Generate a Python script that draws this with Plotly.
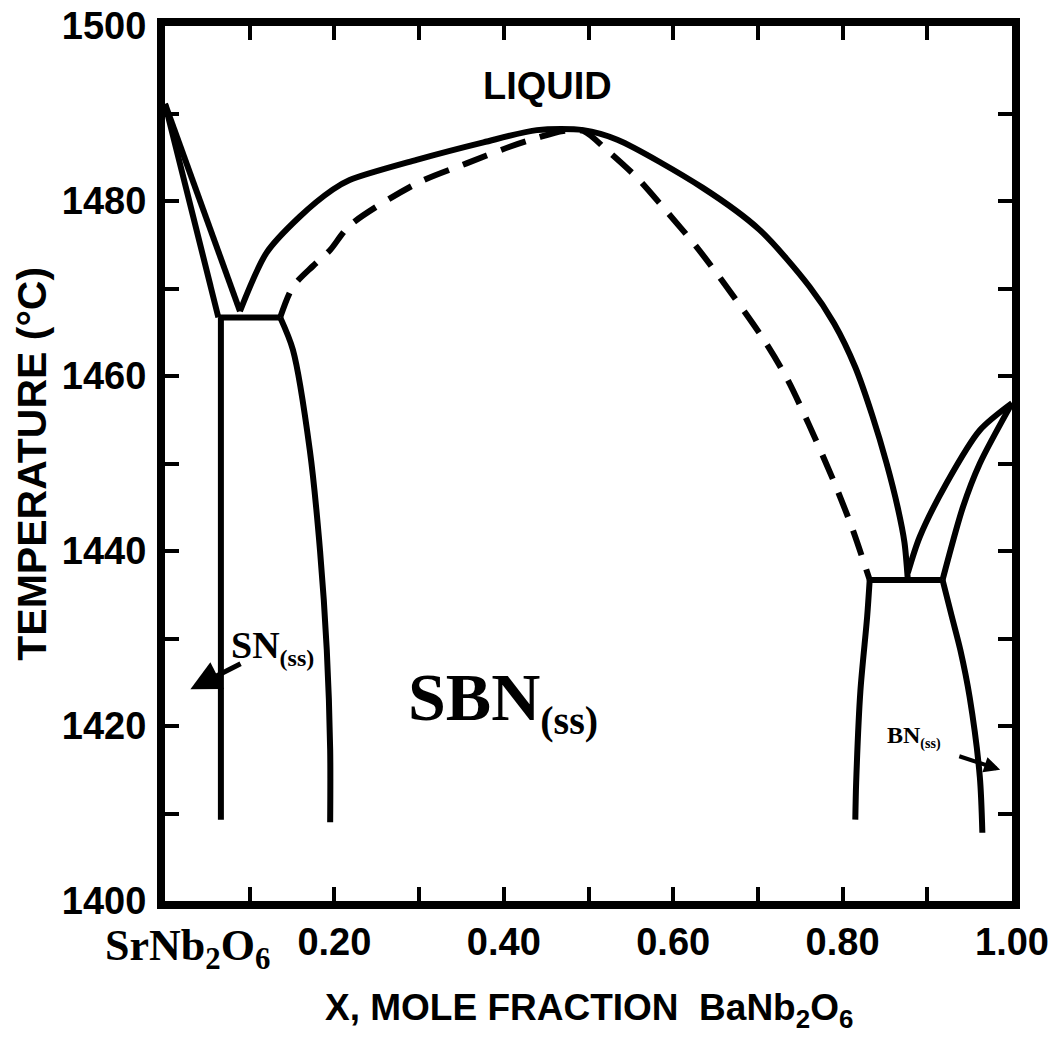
import plotly.graph_objects as go

# ---- data (x = mole fraction BaNb2O6, T in deg C) ----
sn_solidus_x = [0.0, 0.063]
sn_solidus_t = [1491.1, 1466.7]

sn_liquidus_x = [0.0, 0.0885]
sn_liquidus_t = [1491.1, 1467.4]

sn_solvus_x = [0.066, 0.066]
sn_solvus_t = [1466.7, 1409.3]

eut_left_x = [0.063, 0.136]
eut_left_t = [1466.7, 1466.7]

sbn_left_solvus_x = [0.136, 0.151, 0.171, 0.183, 0.191, 0.195, 0.195]
sbn_left_solvus_t = [1466.7, 1463.0, 1451.5, 1440.1, 1428.7, 1417.3, 1409.0]

liquidus_x = [0.0885, 0.120, 0.159, 0.198, 0.218, 0.297, 0.376, 0.439, 0.494,
              0.534, 0.635, 0.702, 0.761, 0.790, 0.815, 0.835, 0.852, 0.865,
              0.873, 0.877]
liquidus_t = [1467.4, 1474.1, 1478.2, 1481.3, 1482.4, 1484.7, 1486.7, 1488.1, 1488.1,
              1487.0, 1481.5, 1476.7, 1470.2, 1466.0, 1461.0, 1455.5, 1450.0, 1445.0,
              1441.0, 1436.7]

solidus_x = [0.136, 0.151, 0.175, 0.195, 0.218, 0.297, 0.356, 0.407, 0.439, 0.470,
             0.494, 0.522, 0.557, 0.588, 0.628, 0.663, 0.706, 0.735, 0.760, 0.789,
             0.811, 0.832]
solidus_t = [1466.7, 1470.2, 1472.6, 1474.4, 1477.2, 1482.0, 1484.3, 1486.2, 1487.2, 1488.0,
             1488.0, 1485.8, 1482.7, 1479.3, 1474.7, 1470.2, 1464.3, 1459.6, 1454.5, 1448.1,
             1442.7, 1436.7]

eut_right_x = [0.832, 0.918]
eut_right_t = [1436.7, 1436.7]

sbn_right_solvus_x = [0.832, 0.829, 0.821, 0.816, 0.815]
sbn_right_solvus_t = [1436.7, 1432.5, 1424.0, 1413.5, 1409.3]

bn_liquidus_x = [0.877, 0.891, 0.923, 0.962, 1.0]
bn_liquidus_t = [1437.5, 1441.6, 1447.8, 1453.8, 1456.9]

bn_solidus_x = [0.918, 0.942, 0.962, 1.0]
bn_solidus_t = [1436.7, 1445.0, 1450.0, 1456.9]

bn_solvus_x = [0.918, 0.929, 0.939, 0.950, 0.962, 0.965]
bn_solvus_t = [1436.7, 1432.5, 1428.7, 1423.3, 1414.2, 1407.8]

x_tickvals = [0.2, 0.4, 0.6, 0.8, 1.0]
x_ticktext = ["0.20", "0.40", "0.60", "0.80", "1.00"]
y_tickvals = [1400, 1420, 1440, 1460, 1480, 1500]
y_ticktext = ["1400", "1420", "1440", "1460", "1480", "1500"]

SANS = "Liberation Sans, Arial, sans-serif"
SERIF = "Liberation Serif, Times New Roman, serif"

LW = 6
fig = go.Figure()

def add(x, t, dash=None, smooth=False):
    fig.add_trace(go.Scatter(
        x=x, y=t, mode="lines", showlegend=False, hoverinfo="skip",
        line=dict(color="black", width=LW, dash=dash,
                  shape="spline" if smooth else "linear",
                  smoothing=0.8 if smooth else None)))

add(sn_solidus_x, sn_solidus_t)
add(sn_liquidus_x, sn_liquidus_t)
add(sn_solvus_x, sn_solvus_t)
add(eut_left_x, eut_left_t)
add(sbn_left_solvus_x, sbn_left_solvus_t, smooth=True)
add(liquidus_x, liquidus_t, smooth=True)
add(solidus_x, solidus_t, dash="26px,15px", smooth=True)
add(eut_right_x, eut_right_t)
add(sbn_right_solvus_x, sbn_right_solvus_t, smooth=True)
add(bn_liquidus_x, bn_liquidus_t, smooth=True)
add(bn_solidus_x, bn_solidus_t, smooth=True)
add(bn_solvus_x, bn_solvus_t, smooth=True)

axis_common = dict(
    showgrid=False, zeroline=False, showline=True, linecolor="black", linewidth=8,
    mirror="ticks", ticks="inside", ticklen=14, tickwidth=4, tickcolor="black",
    tickmode="array", automargin=False, ticklabeloverflow="allow",
)

fig.update_xaxes(range=[0, 1], tickvals=x_tickvals, ticktext=x_ticktext,
                 tickfont=dict(family=SANS, size=38, color="black", weight="bold"),
                 ticklabelstandoff=0,
                 minor=dict(tickmode="linear", tick0=0, dtick=0.1, ticks="inside",
                            ticklen=14, tickwidth=4, tickcolor="black", showgrid=False),
                 **axis_common)
fig.update_yaxes(range=[1400, 1500], tickvals=y_tickvals, ticktext=y_ticktext,
                 tickfont=dict(family=SANS, size=38, color="black", weight="bold"),
                 ticklabelstandoff=3,
                 minor=dict(tickmode="linear", tick0=1400, dtick=10, ticks="inside",
                            ticklen=14, tickwidth=4, tickcolor="black", showgrid=False),
                 **axis_common)

ann = []
# axis titles
ann.append(dict(xref="paper", yref="paper", x=-0.158, y=0.5, textangle=-90,
                text="TEMPERATURE (°C)", showarrow=False,
                font=dict(family=SANS, size=41, color="black", weight="bold"),
                xanchor="center", yanchor="middle"))
ann.append(dict(xref="paper", yref="paper", x=0.5, y=-0.124,
                text="X, MOLE FRACTION  BaNb<sub>2</sub>O<sub>6</sub>", showarrow=False,
                font=dict(family=SANS, size=37, color="black", weight="bold"),
                xanchor="center", yanchor="middle"))
ann.append(dict(xref="x", yref="paper", x=0.027, y=-0.054,
                text="SrNb<sub>2</sub>O<sub>6</sub>", showarrow=False,
                font=dict(family=SERIF, size=44, color="black", weight="bold"),
                xanchor="center", yanchor="middle"))
# region labels
ann.append(dict(xref="x", yref="y", x=0.451, y=1493.1, text="LIQUID", showarrow=False,
                font=dict(family=SANS, size=38, color="black", weight="bold"),
                xanchor="center", yanchor="middle"))
ann.append(dict(xref="x", yref="y", x=0.285, y=1422.9,
                text="SBN<sub><span style=\"font-size:40px\">(ss)</span></sub>",
                showarrow=False,
                font=dict(family=SERIF, size=68, color="black", weight="bold"),
                xanchor="left", yanchor="middle"))
ann.append(dict(xref="x", yref="y", x=0.075, y=1429.0,
                text="SN<sub><span style=\"font-size:24px\">(ss)</span></sub>",
                showarrow=False,
                font=dict(family=SERIF, size=38, color="black", weight="bold"),
                xanchor="left", yanchor="middle"))
ann.append(dict(xref="x", yref="y", x=0.850, y=1418.7,
                text="BN<sub><span style=\"font-size:14px\">(ss)</span></sub>",
                showarrow=False,
                font=dict(family=SERIF, size=24, color="black", weight="bold"),
                xanchor="left", yanchor="middle"))
# arrows
ann.append(dict(xref="x", yref="y", axref="x", ayref="y",
                x=0.030, y=1424.2, ax=0.091, ay=1427.2, text="",
                showarrow=True, arrowhead=2, arrowsize=1.2, arrowwidth=5,
                arrowcolor="black", standoff=0, startstandoff=0))
ann.append(dict(xref="x", yref="y", axref="x", ayref="y",
                x=0.986, y=1415.0, ax=0.936, ay=1416.6, text="",
                showarrow=True, arrowhead=2, arrowsize=0.8, arrowwidth=4,
                arrowcolor="black", standoff=0, startstandoff=0))

fig.update_layout(
    width=1054, height=1051,
    margin=dict(l=165, r=42, t=26, b=150),
    plot_bgcolor="white", paper_bgcolor="white",
    annotations=ann,
)

fig.write_html("out.html", config={"displayModeBar": False},
               post_script="document.body.style.margin='0';document.body.style.overflow='hidden';")
